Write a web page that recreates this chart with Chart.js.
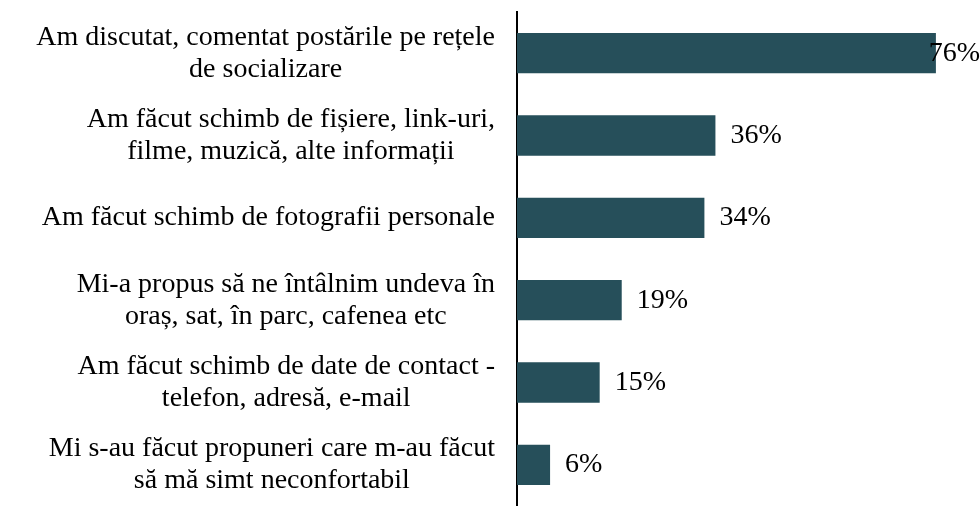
<!DOCTYPE html>
<html>
<head>
<meta charset="utf-8">
<script src="https://cdn.jsdelivr.net/npm/chart.js@4"></script>
<style>
  html, body { margin: 0; padding: 0; background: #fff; }
  canvas { display: block; }
</style>
</head>
<body>
<canvas id="barChart" width="980" height="506"></canvas>
<script>
// categories (each entry = lines of the label)
const categories = [
  ["Am discutat, comentat postările pe rețele", "de socializare"],
  ["Am făcut schimb de fișiere, link-uri,", "filme, muzică, alte informații"],
  ["Am făcut schimb de fotografii personale"],
  ["Mi-a propus să ne întâlnim undeva în", "oraș, sat, în parc, cafenea etc"],
  ["Am făcut schimb de date de contact -", "telefon, adresă, e-mail"],
  ["Mi s-au făcut propuneri care m-au făcut", "să mă simt neconfortabil"]
];
const shares = [76, 36, 34, 19, 15, 6];

const FONT = "28px 'Liberation Serif', 'Times New Roman', serif";
const BAR_COLOR = "#264f5a";

// category labels: block right aligned next to the axis, lines centered inside the block
const labelPlugin = {
  id: "labelPlugin",
  afterDraw(chart) {
    const ctx = chart.ctx;
    const yScale = chart.scales.y;
    const right = chart.chartArea.left - 22;
    const lineH = 32;
    ctx.save();
    ctx.font = FONT;
    ctx.fillStyle = "#000";
    ctx.textAlign = "center";
    ctx.textBaseline = "middle";
    categories.forEach((lines, i) => {
      const yc = yScale.getPixelForTick(i);
      let widest = 0;
      lines.forEach(l => { widest = Math.max(widest, ctx.measureText(l).width); });
      const xc = right - widest / 2;
      const top = yc - (lines.length - 1) * lineH / 2;
      lines.forEach((l, j) => ctx.fillText(l, xc, top + j * lineH));
    });
    ctx.restore();
  }
};

// value labels right of each bar, kept inside the canvas
const valuePlugin = {
  id: "valuePlugin",
  afterDatasetsDraw(chart) {
    const ctx = chart.ctx;
    const meta = chart.getDatasetMeta(0);
    ctx.save();
    ctx.font = FONT;
    ctx.fillStyle = "#000";
    ctx.textAlign = "left";
    ctx.textBaseline = "middle";
    meta.data.forEach((bar, i) => {
      const txt = shares[i] + "%";
      const w = ctx.measureText(txt).width;
      const x = Math.min(bar.x + 15, chart.width - w);
      ctx.fillText(txt, x, bar.y);
    });
    ctx.restore();
  }
};

new Chart(document.getElementById("barChart"), {
  type: "bar",
  data: {
    labels: categories,
    datasets: [{
      data: shares,
      backgroundColor: BAR_COLOR,
      barPercentage: 0.49,
      categoryPercentage: 1
    }]
  },
  options: {
    indexAxis: "y",
    responsive: false,
    animation: false,
    layout: { padding: { top: 12, left: 0, right: 0, bottom: 0 } },
    plugins: {
      legend: { display: false },
      tooltip: { enabled: false }
    },
    scales: {
      x: {
        display: false,
        min: 0,
        max: 84
      },
      y: {
        ticks: { display: false },
        grid: { display: false },
        border: { display: true, color: "#000", width: 2 },
        afterFit(scale) { scale.width = 517; }
      }
    }
  },
  plugins: [labelPlugin, valuePlugin]
});
</script>
</body>
</html>
